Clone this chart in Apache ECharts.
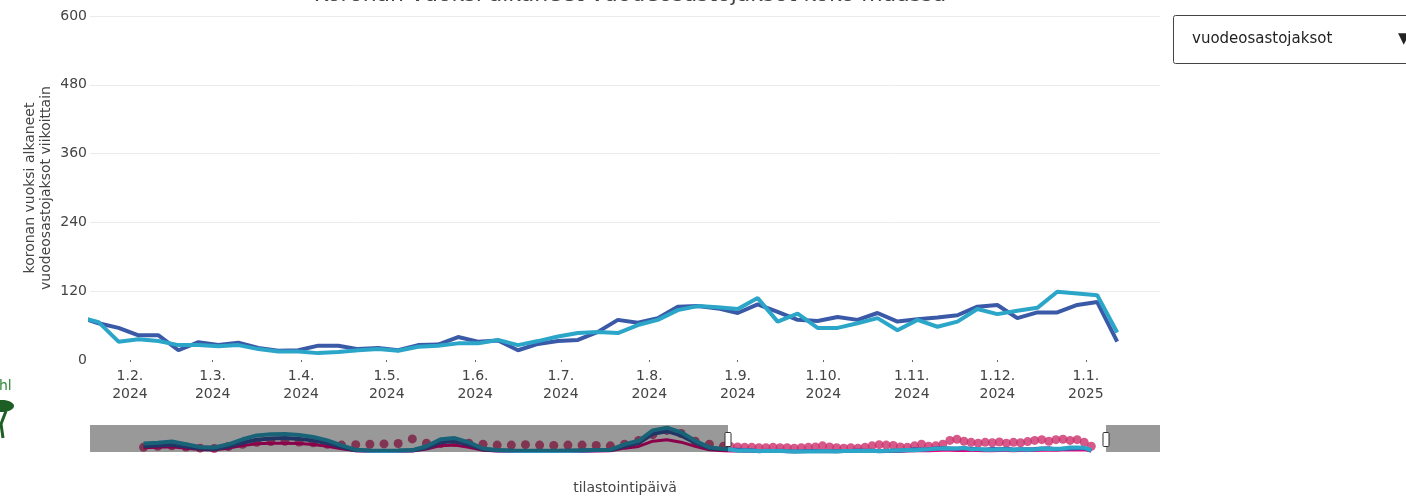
<!DOCTYPE html>
<html>
<head>
<meta charset="utf-8">
<script src="https://cdn.jsdelivr.net/npm/echarts@6/dist/echarts.min.js"></script>
<style>
html, body { margin: 0; padding: 0; background: #fff; }
#chart { width: 1406px; height: 496px; }
</style>
</head>
<body>
<div id="chart"></div>
<script>
// viikoittaiset luvut, ensimmäinen viikko 14.1.2024
const firstWeek = '2024-01-14';
const darkSeries = [75, 64, 56, 43, 43, 17, 31, 26, 30, 21, 16, 17, 25, 25, 19, 21, 17, 26, 27, 40,
    32, 34, 17, 28, 33, 35, 49, 70, 65, 73, 93, 94, 90, 82, 97, 84, 70, 68, 75, 70,
    82, 67, 71, 74, 78, 93, 96, 73, 83, 83, 96, 101, 32];
const tealSeries = [75, 66, 32, 36, 33, 26, 26, 24, 26, 19, 15, 15, 12, 14, 17, 19, 16, 23, 25, 29,
    29, 35, 26, 33, 41, 47, 49, 47, 61, 70, 87, 94, 92, 89, 108, 67, 81, 56, 56, 64,
    73, 52, 70, 58, 67, 89, 80, 86, 91, 119, 116, 113, 48];
const pinkDots = [150, 140, 130, 120, 120, 110, 110, 120, 110, 110, 100, 110, 120, 130, 160, 130, 110, 100, 110, 100,
    120, 160, 190, 180, 170, 130, 120, 160, 200, 150, 160, 200, 300, 330, 280, 250, 230, 250, 240, 260,
    230, 250, 240, 270, 300, 320, 280, 320, 330, 300, 320, 250, 150];
const magentaLine = [30, 28, 25, 20, 20, 15, 15, 12, 14, 12, 10, 10, 12, 12, 10, 12, 10, 12, 14, 16,
    15, 18, 15, 18, 20, 22, 25, 30, 30, 35, 40, 45, 45, 42, 48, 40, 38, 35, 35, 38,
    40, 35, 38, 40, 42, 48, 50, 45, 50, 55, 55, 60, 30];

// aiempi historia aikajanassa, kahden viikon välein alkaen 19.6.2022
const historyStart = '2022-06-19';
const darkHistory = [150, 170, 190, 140, 90, 80, 140, 240, 320, 350, 360, 340, 300, 230, 130, 45, 30, 25, 30, 40,
    110, 250, 280, 190, 70, 40, 30, 25, 25, 25, 30, 35, 45, 50, 150, 230, 470, 540, 430, 240, 100];
const tealHistory = [220, 240, 270, 200, 130, 115, 200, 330, 430, 460, 465, 440, 390, 300, 170, 60, 40, 35, 40, 50,
    150, 330, 360, 250, 90, 50, 40, 35, 35, 30, 35, 45, 55, 60, 200, 290, 560, 630, 510, 290, 120];
const pinkHistory = [120, 150, 160, 130, 100, 90, 140, 200, 250, 270, 280, 260, 240, 200, 180, 190, 200, 210, 220, 340,
    230, 220, 250, 230, 200, 180, 180, 190, 180, 170, 180, 180, 170, 160, 200, 300, 450, 560, 480, 280, 200];
const magentaHistory = [110, 120, 135, 100, 65, 55, 100, 165, 215, 230, 230, 220, 195, 150, 85, 30, 20, 18, 20, 25,
    75, 165, 180, 125, 45, 25, 20, 18, 18, 15, 18, 22, 28, 30, 100, 145, 280, 315, 255, 145, 60];

const monthTicks = ['2024-02-01', '2024-03-01', '2024-04-01', '2024-05-01', '2024-06-01', '2024-07-01',
    '2024-08-01', '2024-09-01', '2024-10-01', '2024-11-01', '2024-12-01', '2025-01-01'];
const windowStart = '2024-01-18';
const windowEnd = '2025-01-27';
const sliderStart = '2022-04-27';
const sliderEnd = '2025-03-21';

function parseDay(s) {
    var p = s.split('-');
    return new Date(+p[0], +p[1] - 1, +p[2]).getTime();
}
function dates(start, n, stepDays) {
    var out = [];
    var d = parseDay(start);
    for (var i = 0; i < n; i++) {
        var t = new Date(d);
        t.setDate(t.getDate() + i * stepDays);
        out.push(t.getTime());
    }
    return out;
}
function pairs(xs, ys) {
    return ys.map(function (v, i) { return [xs[i], v]; });
}

const weeks = dates(firstWeek, darkSeries.length, 7);
const histDays = dates(historyStart, darkHistory.length, 14);
const allDays = histDays.concat(weeks);

var font = 'DejaVu Sans';
var chart = echarts.init(document.getElementById('chart'));

var option = {
    animation: false,
    textStyle: { fontFamily: font },
    title: {
        text: 'Koronan vuoksi alkaneet vuodeosastojaksot koko maassa',
        left: 625,
        textAlign: 'center',
        top: -21,
        textStyle: { fontSize: 22, fontWeight: 'normal', color: '#444', fontFamily: font }
    },
    grid: [
        { left: 90, right: 246, top: 16, bottom: 136, outerBoundsMode: 'none' },
        { left: 90, width: 1070, top: 425, height: 27, outerBoundsMode: 'none' }
    ],
    xAxis: [
        {
            type: 'value',
            gridIndex: 0,
            min: parseDay(windowStart),
            max: parseDay(windowEnd),
            axisLine: { show: false },
            splitLine: { show: false },
            axisTick: {
                show: true,
                length: 2,
                lineStyle: { color: '#666', width: 1 },
                customValues: monthTicks.map(parseDay)
            },
            axisLabel: {
                customValues: monthTicks.map(parseDay),
                color: '#444',
                fontSize: 14,
                lineHeight: 18,
                margin: 7,
                formatter: function (v) {
                    var d = new Date(v);
                    return d.getDate() + '.' + (d.getMonth() + 1) + '.\n' + d.getFullYear();
                }
            },
            name: 'tilastointipäivä',
            nameLocation: 'middle',
            nameGap: 121,
            nameMoveOverlap: false,
            nameTextStyle: { color: '#444', fontSize: 14 }
        },
        {
            type: 'value',
            gridIndex: 1,
            min: parseDay(sliderStart),
            max: parseDay(sliderEnd),
            show: false
        }
    ],
    yAxis: [
        {
            type: 'value',
            gridIndex: 0,
            min: 0,
            max: 600,
            interval: 120,
            axisLine: { show: false },
            axisTick: { show: false },
            axisLabel: { color: '#444', fontSize: 14, margin: 3 },
            splitLine: { show: true, showMinLine: false, lineStyle: { color: '#ebebeb', width: 1 } },
            name: 'koronan vuoksi alkaneet\nvuodeosastojaksot viikoittain',
            nameLocation: 'middle',
            nameGap: 36,
            nameMoveOverlap: false,
            nameTextStyle: { color: '#444', fontSize: 14, lineHeight: 16 }
        },
        {
            type: 'value',
            gridIndex: 1,
            min: 0,
            max: 700,
            show: false
        }
    ],
    series: [
        {
            name: 'tummansininen',
            type: 'line',
            data: pairs(weeks, darkSeries),
            symbol: 'none',
            color: '#3a5aa8',
            lineStyle: { width: 4, color: '#3a5aa8' },
            z: 2
        },
        {
            name: 'turkoosi',
            type: 'line',
            data: pairs(weeks, tealSeries),
            symbol: 'none',
            color: '#2ba6c9',
            lineStyle: { width: 4, color: '#2ba6c9' },
            z: 3
        },
        // aikajanan (range slider) sarjat
        {
            type: 'scatter',
            xAxisIndex: 1,
            yAxisIndex: 1,
            data: pairs(allDays, pinkHistory.concat(pinkDots)),
            symbolSize: 9,
            itemStyle: { color: '#cc2f6c' },
            silent: true,
            z: 2
        },
        {
            type: 'line',
            xAxisIndex: 1,
            yAxisIndex: 1,
            data: pairs(allDays, magentaHistory.concat(magentaLine)),
            symbol: 'none',
            lineStyle: { width: 3, color: '#e6007e' },
            silent: true,
            z: 3
        },
        {
            type: 'line',
            xAxisIndex: 1,
            yAxisIndex: 1,
            data: pairs(allDays, darkHistory.concat(darkSeries)),
            symbol: 'none',
            lineStyle: { width: 4, color: '#3a5aa8' },
            silent: true,
            z: 4
        },
        {
            type: 'line',
            xAxisIndex: 1,
            yAxisIndex: 1,
            data: pairs(allDays, tealHistory.concat(tealSeries)),
            symbol: 'none',
            lineStyle: { width: 4, color: '#2ba6c9' },
            silent: true,
            z: 5
        }
    ],
    graphic: [
        {
            id: 'dropdown',
            type: 'rect',
            shape: { x: 1173.5, y: 15.5, width: 260, height: 48, r: 2 },
            style: { fill: '#fff', stroke: '#444', lineWidth: 1 }
        },
        {
            id: 'dropdownText',
            type: 'text',
            x: 1192, y: 39,
            style: { text: 'vuodeosastojaksot', fontSize: 15, fill: '#222', fontFamily: font, verticalAlign: 'middle' }
        },
        {
            id: 'dropdownArrow',
            type: 'text',
            x: 1398, y: 39,
            style: { text: '▼', fontSize: 15, fill: '#222', fontFamily: font, verticalAlign: 'middle' }
        },
        {
            id: 'logoText',
            type: 'text',
            x: -1, y: 386,
            style: { text: 'hl', fontSize: 14, fill: '#2f8a3a', fontFamily: font, verticalAlign: 'middle' }
        },
        {
            id: 'logoLeaf',
            type: 'ellipse',
            shape: { cx: 2, cy: 406, rx: 12, ry: 6 },
            style: { fill: '#1d5e24' }
        },
        {
            id: 'logoStem',
            type: 'polyline',
            shape: { points: [[6, 411], [1, 424], [3, 438]] },
            style: { stroke: '#1d5e24', lineWidth: 3, fill: null }
        }
    ]
};

chart.setOption(option);

// aikajanan harmaa peite ja kahvat valitun ikkunan reunoilla
var s0 = chart.convertToPixel({ xAxisIndex: 1 }, parseDay(sliderStart));
var s1 = chart.convertToPixel({ xAxisIndex: 1 }, parseDay(sliderEnd));
var h1 = Math.round(chart.convertToPixel({ xAxisIndex: 1 }, parseDay(windowStart)));
var h2 = Math.round(chart.convertToPixel({ xAxisIndex: 1 }, parseDay(windowEnd)));
var maskStyle = { fill: 'rgba(0,0,0,0.4)' };
chart.setOption({
    graphic: [
        { id: 'maskL', type: 'rect', shape: { x: s0, y: 425, width: h1 - s0, height: 27 }, style: maskStyle, z: 90 },
        { id: 'maskR', type: 'rect', shape: { x: h2, y: 425, width: s1 - h2, height: 27 }, style: maskStyle, z: 90 },
        { id: 'handleL', type: 'rect', shape: { x: h1 - 3, y: 432.5, width: 6, height: 14, r: 1 },
          style: { fill: '#fff', stroke: '#333', lineWidth: 1 }, z: 100 },
        { id: 'handleR', type: 'rect', shape: { x: h2 - 3, y: 432.5, width: 6, height: 14, r: 1 },
          style: { fill: '#fff', stroke: '#333', lineWidth: 1 }, z: 100 }
    ]
});
</script>
</body>
</html>
